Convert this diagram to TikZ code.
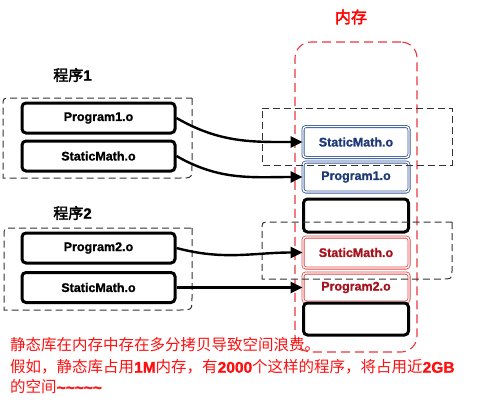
\documentclass[tikz,border=0pt]{standalone}
\usepackage{fontspec}
\setmainfont{Liberation Sans}
\newfontfamily\cjk{Noto Sans CJK SC}
\newfontfamily\cjkb{Noto Sans CJK SC}[FakeBold=2.5]
\newfontfamily\lbl{Liberation Sans Bold}[FakeBold=1.2]
\usetikzlibrary{arrows.meta}
\definecolor{memred}{HTML}{E8383D}
\definecolor{bluestroke}{HTML}{2F5597}
\definecolor{bluetext}{HTML}{1F3A78}
\definecolor{redstroke}{HTML}{E04545}
\definecolor{redtext}{HTML}{A5141E}
\definecolor{notered}{HTML}{FF1010}
\tikzset{
  objbox/.style={draw=black, line width=3pt, rounded corners=4pt, minimum width=153pt, minimum height=30pt, inner sep=0pt, font=\lbl\fontsize{12.5}{13}\selectfont},
  blkbox/.style={draw=black, line width=3pt, rounded corners=4pt, minimum width=105pt, minimum height=31pt, inner sep=0pt},
  bluebox/.style={draw=bluestroke, double=white, double distance=1.4pt, line width=0.8pt, rounded corners=3pt, minimum width=106pt, minimum height=31pt, inner sep=0pt, text=bluetext, font=\lbl\fontsize{12.5}{13}\selectfont},
  redbox/.style={draw=redstroke, double=white, double distance=1.4pt, line width=0.8pt, rounded corners=3pt, minimum width=106pt, minimum height=31pt, inner sep=0pt, text=redtext, font=\lbl\fontsize{12.5}{13}\selectfont},
  grpbox/.style={draw=black!80, line width=1pt, dash pattern=on 7pt off 4pt},
  membox/.style={draw=memred, line width=1.1pt, dash pattern=on 9pt off 5pt, rounded corners=16pt, minimum width=122pt, minimum height=310pt, inner sep=0pt},
  link/.style={draw=black, line width=2.4pt, -{Triangle[length=12pt,width=11pt]}},
  title/.style={font=\cjkb\fontsize{15}{16}\selectfont, inner sep=0pt},
  note/.style={text=notered, font=\cjk\fontsize{15.5}{18}\selectfont, inner sep=0pt, anchor=west}
}
\begin{document}
\begin{tikzpicture}[x=1pt,y=-1pt]
\useasboundingbox (0,0) rectangle (483,413);

% memory
\node[title, text=red, font=\cjkb\fontsize{16}{17}\selectfont] (memtitle) at (351,17) {内存};
\node[membox] (mem) at (356,197) {};

% memory blocks
\node[bluebox] (ms1) at (356,142) {StaticMath.o};
\node[bluebox, minimum height=30pt] (pg1) at (356,177) {Program1.o};
\node[blkbox, minimum height=33pt] (blk1) at (356,215.5) {};
\node[redbox] (ms2) at (356,252.5) {StaticMath.o};
\node[redbox, minimum height=29pt] (pg2) at (356,287.5) {Program2.o};
\node[blkbox, minimum height=32pt] (blk2) at (356,319) {};

% program 1
\node[title] (t1) at (72.5,75) {程序{\lbl 1}};
\node[objbox] (p1) at (98.5,118) {Program1.o};
\node[objbox] (s1) at (98.5,156) {StaticMath.o};

% program 2
\node[title] (t2) at (72.5,213) {程序{\lbl 2}};
\node[objbox] (p2) at (98.5,248) {Program2.o};
\node[objbox] (s2) at (98.5,287.5) {StaticMath.o};

% group frames
\draw[grpbox] (192,98) -- (192,166) .. controls (192,178) .. (180,178) -- (3,178) -- (3,106) .. controls (3,98) .. (11,98) -- cycle;
\draw[grpbox] (192,228) -- (192,298) .. controls (192,310) .. (180,310) -- (4,310) -- (4,236) .. controls (4,228) .. (12,228) -- cycle;
\draw[grpbox] (262,108) -- (452,108) -- (452,165) -- (262,165) -- cycle;
\draw[grpbox] (452,222) -- (452,271) .. controls (452,279) .. (440,279) -- (262,279) -- (262,230) .. controls (262,222) .. (270,222) -- cycle;

% links
\draw[link] (p1.east) to[out=-30, in=180] (ms1.west);
\draw[link] (s1.east) to[out=-30, in=180] (pg1.west);
\draw[link] (p2.east) to[out=-15, in=180] (ms2.west);
\draw[link] (s2.east) -- (pg2.west);

% notes
\node[note] (n1) at (10,345) {静态库在内存中存在多分拷贝导致空间浪费。};
\node[note] (n2) at (10,367) {假如，静态库占用{\lbl 1M}内存，有{\lbl 2000}个这样的程序，将占用近{\lbl 2GB}};
\node[note] (n3) at (10,387) {的空间{\lbl \textasciitilde\textasciitilde\textasciitilde\textasciitilde\textasciitilde}};
\end{tikzpicture}
\end{document}
